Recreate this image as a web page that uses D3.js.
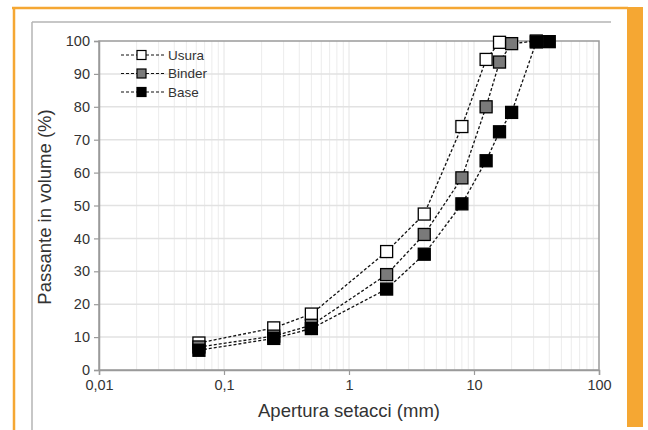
<!DOCTYPE html>
<html>
<head>
<meta charset="utf-8">
<script src="https://cdn.jsdelivr.net/npm/d3@7"></script>
<style>
  body { margin: 0; background: #fff; }
  svg { display: block; font-family: "Liberation Sans", Arial, sans-serif; }
</style>
</head>
<body>
<script>
// sieve sizes (mm) and passing percentages
const usuraSizes = [0.063, 0.25, 0.5, 2, 4, 8, 12.5, 16]
const usuraPass = [8.2, 12.8, 17, 36, 47.4, 74, 94.4, 99.6]
const binderSizes = [0.063, 0.25, 0.5, 2, 4, 8, 12.5, 16, 20, 31.5]
const binderPass = [7, 10.3, 13.6, 29, 41.2, 58.4, 80, 93.6, 99.2, 100]
const baseSizes = [0.063, 0.25, 0.5, 2, 4, 8, 12.5, 16, 20, 31.5, 40]
const basePass = [6, 9.6, 12.6, 24.6, 35.2, 50.5, 63.6, 72.4, 78.3, 99.7, 99.8]

const seriesNames = ['Usura', 'Binder', 'Base']
const seriesFill = ['#ffffff', '#7a7a7a', '#000000']
const xTicks = [0.01, 0.1, 1, 10, 100]
const yTicks = [0, 10, 20, 30, 40, 50, 60, 70, 80, 90, 100]

const W = 648, H = 430
const svg = d3.select('body').append('svg')
    .attr('width', W)
    .attr('height', H)

// frame decorations
svg.append('rect').attr('x', 627).attr('y', 7).attr('width', 16).attr('height', 420).attr('fill', '#f5a733')
svg.append('line').attr('x1', 12).attr('x2', 628).attr('y1', 8).attr('y2', 8)
    .attr('stroke', '#f5a733').attr('stroke-width', 2.5)
svg.append('line').attr('x1', 14).attr('x2', 14).attr('y1', 7).attr('y2', 430)
    .attr('stroke', '#f5a733').attr('stroke-width', 2.5)
svg.append('line').attr('x1', 32).attr('x2', 611).attr('y1', 22).attr('y2', 22)
    .attr('stroke', '#b5b5b5').attr('stroke-width', 1.5)
svg.append('line').attr('x1', 32).attr('x2', 32).attr('y1', 22).attr('y2', 430)
    .attr('stroke', '#b5b5b5').attr('stroke-width', 1.5)

const x = d3.scaleLog().domain([0.01, 100]).range([99, 599])
const y = d3.scaleLinear().domain([0, 100]).range([370, 41])

// grid
const minor = []
for (let d = 0.01; d < 100; d *= 10) {
    for (let k = 2; k <= 9; k++) minor.push(d * k)
}
svg.append('g').selectAll('line').data(minor).enter().append('line')
    .attr('x1', d => x(d)).attr('x2', d => x(d))
    .attr('y1', y(0)).attr('y2', y(100))
    .attr('stroke', '#ececec').attr('stroke-width', 1)
svg.append('g').selectAll('line').data(xTicks.slice(1, -1)).enter().append('line')
    .attr('x1', d => x(d)).attr('x2', d => x(d))
    .attr('y1', y(0)).attr('y2', y(100))
    .attr('stroke', '#e4e4e4').attr('stroke-width', 1)
svg.append('g').selectAll('line').data(yTicks.slice(1, -1)).enter().append('line')
    .attr('x1', x(0.01)).attr('x2', x(100))
    .attr('y1', d => y(d)).attr('y2', d => y(d))
    .attr('stroke', '#e2e2e2').attr('stroke-width', 1.5)

// plot border
svg.append('rect')
    .attr('x', x(0.01)).attr('y', y(100))
    .attr('width', x(100) - x(0.01)).attr('height', y(0) - y(100))
    .attr('fill', 'none').attr('stroke', '#9a9a9a').attr('stroke-width', 1.5)

// axes
const fmt = d => String(d).replace('.', ',')
const xAxis = svg.append('g')
    .attr('transform', `translate(0,${y(0)})`)
    .call(d3.axisBottom(x).tickValues(xTicks).tickFormat(fmt).tickSize(5).tickPadding(5))
const yAxis = svg.append('g')
    .attr('transform', `translate(${x(0.01)},0)`)
    .call(d3.axisLeft(y).tickValues(yTicks).tickSize(5).tickPadding(4))
;[xAxis, yAxis].forEach(g => {
    g.select('.domain').attr('stroke', '#9a9a9a').attr('stroke-width', 1.5)
    g.selectAll('.tick line').attr('stroke', '#9a9a9a').attr('stroke-width', 1.2)
    g.selectAll('.tick text').attr('fill', '#333').style('font-size', '14.5px')
        .style('font-family', '"Liberation Sans", Arial, sans-serif')
})

svg.append('text')
    .attr('x', 349).attr('y', 417)
    .attr('text-anchor', 'middle')
    .attr('fill', '#333')
    .style('font-size', '18.5px')
    .text('Apertura setacci (mm)')
svg.append('text')
    .attr('transform', 'translate(51,207) rotate(-90)')
    .attr('text-anchor', 'middle')
    .attr('fill', '#333')
    .style('font-size', '18.5px')
    .text('Passante in volume (%)')

// series
const series = [
    { name: seriesNames[0], fill: seriesFill[0], pts: usuraSizes.map((s, i) => [s, usuraPass[i]]) },
    { name: seriesNames[1], fill: seriesFill[1], pts: binderSizes.map((s, i) => [s, binderPass[i]]) },
    { name: seriesNames[2], fill: seriesFill[2], pts: baseSizes.map((s, i) => [s, basePass[i]]) }
]
const line = d3.line().x(d => x(d[0])).y(d => y(d[1]))
const sq = 12

series.forEach(s => {
    svg.append('path')
        .attr('d', line(s.pts))
        .attr('fill', 'none')
        .attr('stroke', '#111')
        .attr('stroke-width', 1.3)
        .attr('stroke-dasharray', '3,2')
})
series.forEach(s => {
    svg.append('g').selectAll('rect').data(s.pts).enter().append('rect')
        .attr('x', d => x(d[0]) - sq / 2)
        .attr('y', d => y(d[1]) - sq / 2)
        .attr('width', sq).attr('height', sq)
        .attr('fill', s.fill)
        .attr('stroke', '#000').attr('stroke-width', 1.3)
})

// legend
const legend = svg.append('g')
series.forEach((s, i) => {
    const ly = 55 + i * 18.5
    legend.append('line')
        .attr('x1', 121).attr('x2', 164).attr('y1', ly).attr('y2', ly)
        .attr('stroke', '#111').attr('stroke-width', 1.2)
        .attr('stroke-dasharray', '3,2')
    legend.append('rect')
        .attr('x', 137).attr('y', ly - 4.5).attr('width', 9).attr('height', 9)
        .attr('fill', s.fill).attr('stroke', '#000').attr('stroke-width', 1.2)
    legend.append('text')
        .attr('x', 168).attr('y', ly + 4.5)
        .attr('fill', '#333')
        .style('font-size', '13.5px')
        .text(s.name)
})
</script>
</body>
</html>
